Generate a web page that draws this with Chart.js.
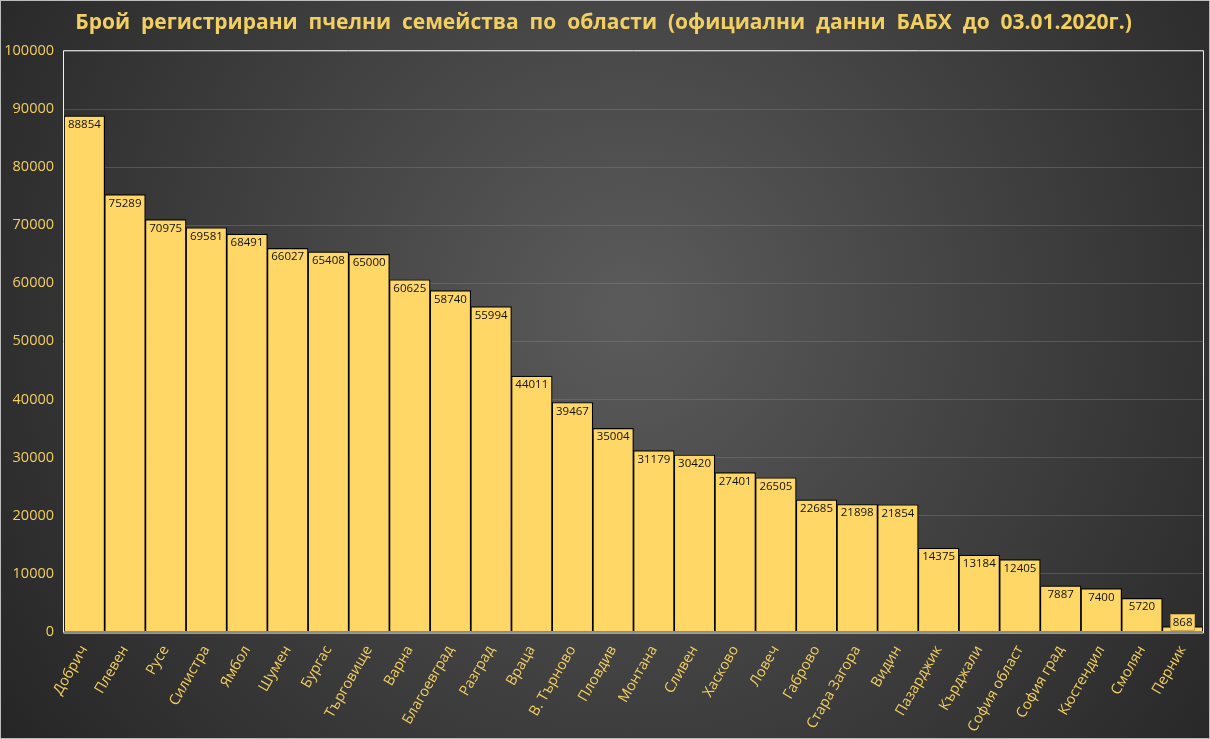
<!DOCTYPE html>
<html>
<head>
<meta charset="utf-8">
<script src="https://cdn.jsdelivr.net/npm/chart.js@4/dist/chart.umd.min.js"></script>
<style>
  html, body { margin: 0; padding: 0; background: #222; }
  canvas { display: block; }
</style>
</head>
<body>
<canvas id="beeChart" width="1210" height="739"></canvas>
<script>
const regions = ["Добрич", "Плевен", "Русе", "Силистра", "Ямбол", "Шумен", "Бургас", "Търговище",
    "Варна", "Благоевград", "Разград", "Враца", "В. Търново", "Пловдив", "Монтана", "Сливен",
    "Хасково", "Ловеч", "Габрово", "Стара Загора", "Видин", "Пазарджик", "Кърджали",
    "София област", "София град", "Кюстендил", "Смолян", "Перник"];
const colonies = [88854, 75289, 70975, 69581, 68491, 66027, 65408, 65000, 60625, 58740, 55994,
    44011, 39467, 35004, 31179, 30420, 27401, 26505, 22685, 21898, 21854, 14375, 13184, 12405,
    7887, 7400, 5720, 868];
const yTicks = [0, 10000, 20000, 30000, 40000, 50000, 60000, 70000, 80000, 90000, 100000];

const gold = "#f2cf63";

// dark radial background + frame around the plot area
const backdrop = {
    id: "backdrop",
    beforeDraw(chart) {
        const { ctx, width, height } = chart;
        ctx.save();
        const g = ctx.createRadialGradient(width * 0.52, height * 0.42, 20, width * 0.52, height * 0.42, width * 0.62);
        g.addColorStop(0, "#5a5a5a");
        g.addColorStop(1, "#262626");
        ctx.fillStyle = g;
        ctx.fillRect(0, 0, width, height);
        ctx.strokeStyle = "#bdbdbd";
        ctx.lineWidth = 1;
        ctx.strokeRect(0.5, 0.5, width - 1, height - 1);
        ctx.restore();
    },
    afterDraw(chart) {
        const { ctx, chartArea: a } = chart;
        ctx.save();
        ctx.strokeStyle = "#f0f0f0";
        ctx.lineWidth = 1;
        ctx.beginPath();
        ctx.moveTo(a.left - 0.5, a.bottom + 1);
        ctx.lineTo(a.left - 0.5, a.top - 0.5);
        ctx.lineTo(a.right + 0.5, a.top - 0.5);
        ctx.lineTo(a.right + 0.5, a.bottom + 1.5);
        ctx.lineTo(a.left - 0.5, a.bottom + 1.5);
        ctx.stroke();
        ctx.restore();
    }
};

// value labels inside the top of each bar
const barValues = {
    id: "barValues",
    afterDatasetsDraw(chart) {
        const { ctx } = chart;
        const meta = chart.getDatasetMeta(0);
        ctx.save();
        ctx.font = "11.5px 'Open Sans', sans-serif";
        ctx.textAlign = "center";
        ctx.textBaseline = "top";
        meta.data.forEach((bar, i) => {
            const txt = String(colonies[i]);
            let y = bar.y + 3;
            if (bar.base - bar.y < 20) {
                y = bar.y - 10;
                const w = ctx.measureText(txt).width + 4;
                ctx.fillStyle = "#fcd66a";
                ctx.fillRect(bar.x - w / 2, y - 2, w, 16);
                ctx.strokeStyle = "#c9a84c";
                ctx.strokeRect(bar.x - w / 2, y - 2, w, 16);
            }
            ctx.fillStyle = "#111";
            ctx.fillText(txt, bar.x, y);
        });
        ctx.restore();
    }
};

new Chart(document.getElementById("beeChart"), {
    type: "bar",
    data: {
        labels: regions,
        datasets: [{
            data: colonies,
            backgroundColor: "#fed766",
            borderColor: "#000",
            borderWidth: 1.2,
            borderSkipped: "bottom",
            categoryPercentage: 1,
            barPercentage: 1
        }]
    },
    options: {
        responsive: false,
        animation: false,
        devicePixelRatio: 1,
        layout: { padding: { left: 4, right: 7, top: 0, bottom: 1 } },
        plugins: {
            legend: { display: false },
            tooltip: { enabled: false },
            title: {
                display: true,
                text: "Брой  регистрирани  пчелни  семейства  по  области  (официални  данни  БАБХ  до  03.01.2020г.)",
                color: gold,
                font: { family: "'Open Sans', sans-serif", size: 21, weight: "bold" },
                padding: { top: 10, bottom: 16 }
            }
        },
        scales: {
            x: {
                grid: { display: false },
                border: { color: "#8c8c8c" },
                ticks: {
                    color: gold,
                    font: { family: "'Open Sans', sans-serif", size: 14.5 },
                    maxRotation: 60,
                    minRotation: 60,
                    autoSkip: false
                }
            },
            y: {
                min: 0,
                max: 100000,
                afterBuildTicks(axis) { axis.ticks = yTicks.map(v => ({ value: v })); },
                afterFit(axis) { axis.width = 60; },
                grid: { color: "rgba(140,140,140,0.35)", drawTicks: false },
                border: { display: false },
                ticks: {
                    color: gold,
                    padding: 10,
                    font: { family: "'Open Sans', sans-serif", size: 14.5 },
                    callback: v => String(v)
                }
            }
        }
    },
    plugins: [backdrop, barValues]
});
</script>
</body>
</html>
